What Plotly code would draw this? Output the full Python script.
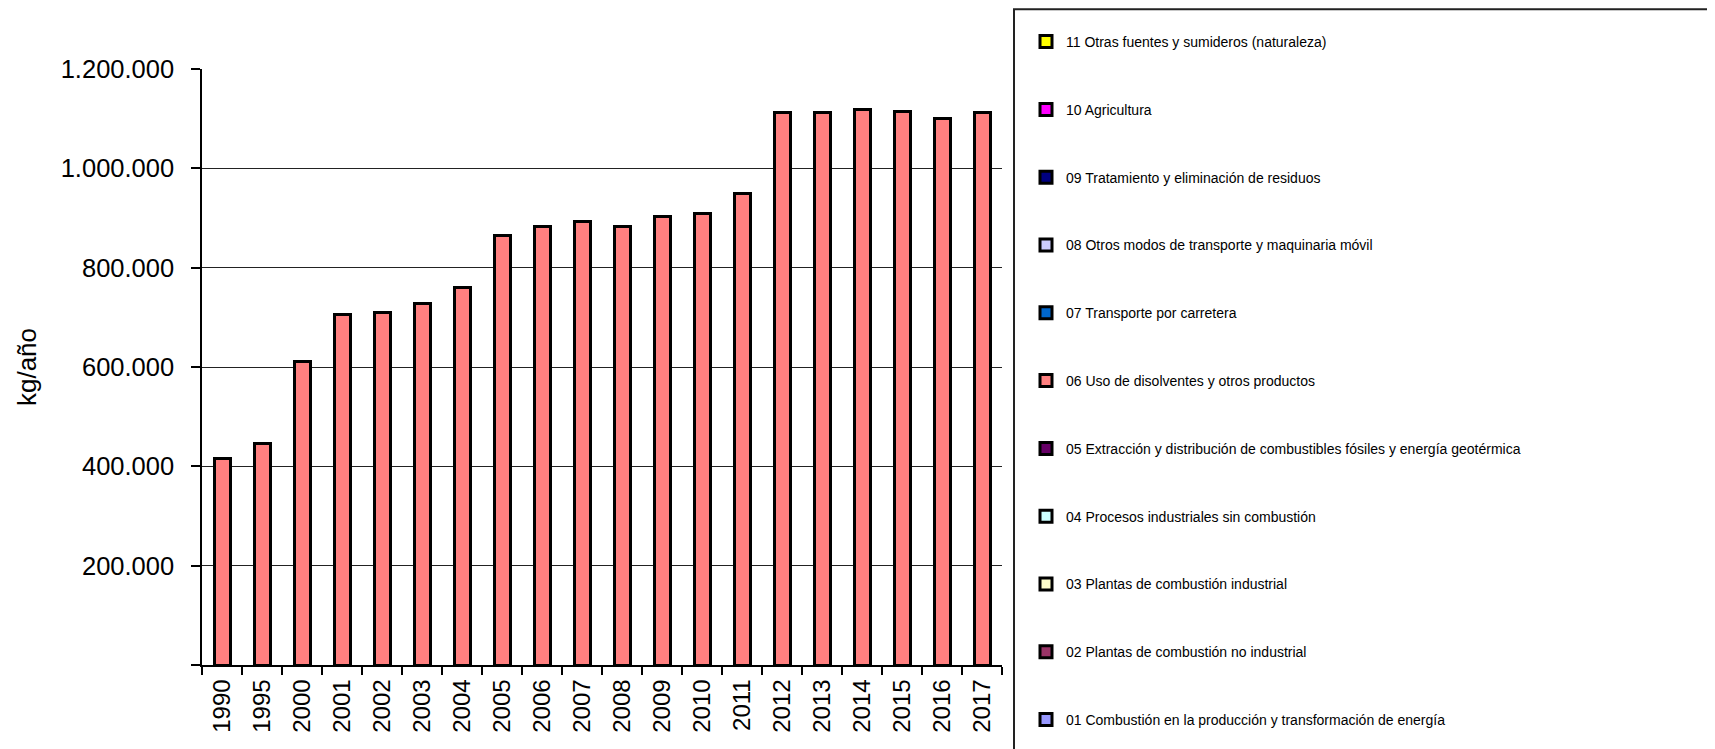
import plotly.graph_objects as go

years = ["1990", "1995", "2000", "2001", "2002", "2003", "2004", "2005", "2006", "2007",
         "2008", "2009", "2010", "2011", "2012", "2013", "2014", "2015", "2016", "2017"]

sector_names = [
    "01 Combustión en la producción y transformación de energía",
    "02 Plantas de combustión no industrial",
    "03 Plantas de combustión industrial",
    "04 Procesos industriales sin combustión",
    "05 Extracción y distribución de combustibles fósiles y energía geotérmica",
    "06 Uso de disolventes y otros productos",
    "07 Transporte por carretera",
    "08 Otros modos de transporte y maquinaria móvil",
    "09 Tratamiento y eliminación de residuos",
    "10 Agricultura",
    "11 Otras fuentes y sumideros (naturaleza)",
]
sector_colors = ["#9999FF", "#993366", "#FFFFCC", "#CCFFFF", "#660066", "#FF8080",
                 "#0066CC", "#CCCCFF", "#000080", "#FF00FF", "#FFFF00"]

s06_disolventes = [415000, 445000, 612000, 706000, 710000, 727000, 761000, 865000, 882000, 893000,
                   883000, 904000, 910000, 949000, 1112000, 1112000, 1119000, 1115000, 1101000, 1112000]
zeros = [0] * len(years)
sector_values = [zeros, zeros, zeros, zeros, zeros, s06_disolventes, zeros, zeros, zeros, zeros, zeros]

y_ticks = [0, 200000, 400000, 600000, 800000, 1000000, 1200000]
y_ticktext = ["" if v == 0 else f"{v:,}".replace(",", ".") for v in y_ticks]

FONT = "Arial, 'Liberation Sans', sans-serif"

fig = go.Figure()
n = len(sector_names)
for i, (name, color, vals) in enumerate(zip(sector_names, sector_colors, sector_values)):
    fig.add_trace(go.Bar(
        x=years, y=vals, name=name, legendgroup=name, legendrank=n - i,
        marker=dict(color=color, line=dict(color="black", width=3)),
    ))

# page body has an 8px margin: work in window coords, then shift
OFF = 8
W, H = 1715 - OFF, 749 - OFF
L, R, T, B = 202 - OFF, 1002 - OFF, 69 - OFF, 665 - OFF
pw, ph = R - L, B - T

def px_x(wx):
    return (wx - OFF - L) / pw

def px_y(wy):
    return (B - (wy - OFF)) / ph

fig.update_layout(
    width=W, height=H,
    margin=dict(l=L, r=W - R, t=T, b=H - B, pad=0, autoexpand=False),
    barmode="stack", bargap=0.6,
    paper_bgcolor="white", plot_bgcolor="white",
    separators=",.",
    font=dict(family=FONT, color="black"),
    showlegend=True,
    legend=dict(
        x=px_x(1026), xanchor="left",
        y=px_y(26), yanchor="top",
        traceorder="grouped",
        tracegroupgap=46.6,
        maxheight=760,
        font=dict(size=14, family=FONT, color="black"),
        bgcolor="rgba(0,0,0,0)", borderwidth=0,
    ),
    shapes=[dict(
        type="rect", xref="paper", yref="paper",
        x0=px_x(1014), x1=px_x(1730),
        y0=px_y(770), y1=px_y(9.2),
        line=dict(color="#222222", width=2), fillcolor="rgba(0,0,0,0)", layer="above",
    )],
)

fig.update_xaxes(
    type="category",
    showline=True, linecolor="black", linewidth=1.5,
    ticks="outside", tickson="boundaries", ticklen=8, tickcolor="black", tickwidth=1.5,
    tickangle=-90, tickfont=dict(size=24, family=FONT),
    ticklabelstandoff=3,
    showgrid=False,
)
fig.update_yaxes(
    range=[0, 1200000],
    tickvals=y_ticks, ticktext=y_ticktext,
    showline=True, linecolor="black", linewidth=1.5,
    ticks="outside", ticklen=9, tickcolor="black", tickwidth=1.5,
    tickfont=dict(size=25.5, family=FONT),
    ticklabelstandoff=12,
    showgrid=True, gridcolor="#222222", gridwidth=1.2,
    zeroline=False,
    title=dict(text="kg/año", font=dict(size=26, family=FONT), standoff=17),
)

fig.write_html("out.html")
